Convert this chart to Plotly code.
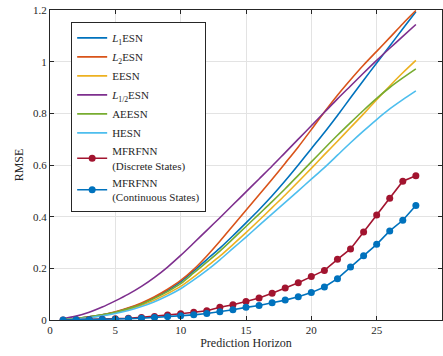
import plotly.graph_objects as go

x_line = list(range(1, 29))
l1esn = [0.003, 0.006, 0.012, 0.02, 0.03, 0.045, 0.063, 0.087, 0.115, 0.148, 0.19, 0.234, 0.278, 0.326,
         0.376, 0.427, 0.481, 0.539, 0.6, 0.663, 0.726, 0.792, 0.86, 0.928, 0.995, 1.061, 1.127, 1.193]
l2esn = [0.003, 0.006, 0.012, 0.02, 0.032, 0.047, 0.066, 0.09, 0.119, 0.153, 0.196, 0.248, 0.305, 0.365,
         0.425, 0.485, 0.545, 0.607, 0.67, 0.737, 0.805, 0.87, 0.93, 0.987, 1.04, 1.093, 1.147, 1.198]
eesn = [0.003, 0.005, 0.01, 0.018, 0.028, 0.041, 0.057, 0.077, 0.102, 0.13, 0.167, 0.207, 0.247, 0.292,
        0.338, 0.386, 0.435, 0.484, 0.535, 0.587, 0.64, 0.692, 0.745, 0.798, 0.853, 0.906, 0.957, 1.005]
l12esn = [0.005, 0.015, 0.03, 0.05, 0.074, 0.1, 0.13, 0.165, 0.205, 0.25, 0.298, 0.347, 0.396, 0.446,
          0.496, 0.546, 0.596, 0.648, 0.7, 0.752, 0.804, 0.856, 0.906, 0.956, 1.005, 1.052, 1.098, 1.144]
aeesn = [0.003, 0.006, 0.012, 0.02, 0.03, 0.044, 0.061, 0.084, 0.11, 0.141, 0.182, 0.224, 0.267, 0.314,
         0.362, 0.41, 0.458, 0.508, 0.56, 0.612, 0.664, 0.715, 0.764, 0.812, 0.858, 0.9, 0.937, 0.972]
hesn = [0.002, 0.004, 0.009, 0.016, 0.025, 0.037, 0.052, 0.071, 0.094, 0.121, 0.155, 0.192, 0.233, 0.277,
        0.321, 0.366, 0.411, 0.455, 0.5, 0.545, 0.59, 0.638, 0.686, 0.732, 0.776, 0.817, 0.853, 0.887]
mfr_discrete = [0.0, 0.001, 0.002, 0.003, 0.005, 0.007, 0.010, 0.014, 0.019, 0.024, 0.030, 0.036, 0.049, 0.059,
                0.072, 0.085, 0.104, 0.124, 0.144, 0.168, 0.192, 0.235, 0.275, 0.341, 0.406, 0.471, 0.537, 0.558]
mfr_continuous = [0.0, 0.0005, 0.001, 0.002, 0.003, 0.005, 0.007, 0.010, 0.013, 0.016, 0.020, 0.025, 0.032, 0.040,
                  0.049, 0.056, 0.067, 0.077, 0.090, 0.106, 0.128, 0.160, 0.205, 0.249, 0.293, 0.345, 0.386, 0.443]

x_ticks = [0, 5, 10, 15, 20, 25, 30]
y_ticks = [0, 0.2, 0.4, 0.6, 0.8, 1.0, 1.2]
y_tick_text = ["0", "0.2", "0.4", "0.6", "0.8", "1", "1.2"]

FONT = "Liberation Serif"

fig = go.Figure()
lines = [
    ("<i>L</i><sub>1</sub>ESN", l1esn, "#0072BD"),
    ("<i>L</i><sub>2</sub>ESN", l2esn, "#D95319"),
    ("EESN", eesn, "#EDB120"),
    ("<i>L</i><sub>1/2</sub>ESN", l12esn, "#7E2F8E"),
    ("AEESN", aeesn, "#77AC30"),
    ("HESN", hesn, "#4DBEEE"),
]
for name, ys, col in lines:
    fig.add_trace(go.Scatter(x=x_line, y=ys, mode="lines", name=name,
                             line=dict(color=col, width=1.6, shape="spline", smoothing=0.8)))

fig.add_trace(go.Scatter(x=x_line, y=mfr_discrete, mode="lines+markers",
                         name="MFRFNN<br>(Discrete States)",
                         line=dict(color="#A2142F", width=1.6),
                         marker=dict(symbol="circle", size=7, color="#A2142F")))
fig.add_trace(go.Scatter(x=x_line, y=mfr_continuous, mode="lines+markers",
                         name="MFRFNN<br>(Continuous States)",
                         line=dict(color="#0072BD", width=1.6),
                         marker=dict(symbol="circle", size=7, color="#0072BD")))

axis_common = dict(showline=True, linecolor="#262626", linewidth=1, mirror="ticks",
                   ticks="inside", ticklen=4, tickcolor="#262626",
                   showgrid=True, gridcolor="#E3E3E3", gridwidth=1, zeroline=False,
                   tickfont=dict(family=FONT, size=11, color="#262626"))

fig.update_xaxes(range=[0, 30], tickvals=x_ticks, ticktext=[str(v) for v in x_ticks],
                 title=dict(text="Prediction Horizon", font=dict(family=FONT, size=12, color="#262626"),
                            standoff=2), **axis_common)
fig.update_yaxes(range=[0, 1.2], tickvals=y_ticks, ticktext=y_tick_text,
                 title=dict(text="RMSE", font=dict(family=FONT, size=12, color="#262626"),
                            standoff=6), **axis_common)

fig.update_layout(
    width=443, height=356,
    margin=dict(l=50, r=1, t=10, b=36),
    paper_bgcolor="white", plot_bgcolor="white",
    font=dict(family=FONT, size=11, color="#262626"),
    showlegend=True,
    legend=dict(x=0.054, y=0.96, xanchor="left", yanchor="top",
                bgcolor="white", bordercolor="#262626", borderwidth=1,
                font=dict(family=FONT, size=11, color="#262626"),
                tracegroupgap=0, itemwidth=30),
)

fig.write_html("out.html")
